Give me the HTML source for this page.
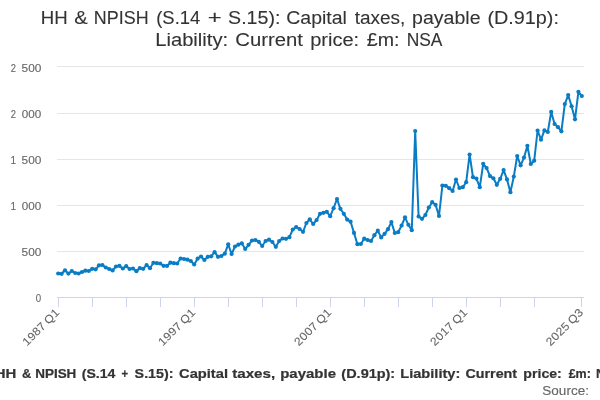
<!DOCTYPE html>
<html><head><meta charset="utf-8"><title>HH &amp; NPISH (S.14 + S.15): Capital taxes, payable (D.91p)</title>
<style>
html,body{margin:0;padding:0;background:#fff;}
body{width:600px;height:400px;overflow:hidden;font-family:"Liberation Sans", sans-serif;}
svg{display:block;font-family:"Liberation Sans", sans-serif;will-change:transform;}
text{white-space:pre;}
</style></head><body>
<svg width="600" height="400" viewBox="0 0 600 400">
<rect x="0" y="0" width="600" height="400" fill="#ffffff"/>
<path d="M 57 66.5 L 584 66.5" stroke="#e6e6e6" stroke-width="1" fill="none"/>
<path d="M 57 113.5 L 584 113.5" stroke="#e6e6e6" stroke-width="1" fill="none"/>
<path d="M 57 159.5 L 584 159.5" stroke="#e6e6e6" stroke-width="1" fill="none"/>
<path d="M 57 205.5 L 584 205.5" stroke="#e6e6e6" stroke-width="1" fill="none"/>
<path d="M 57 251.5 L 584 251.5" stroke="#e6e6e6" stroke-width="1" fill="none"/>
<path d="M 57 297.5 L 584 297.5" stroke="#ccd6eb" stroke-width="1" fill="none"/>
<path d="M 58.5 297 L 58.5 307" stroke="#ccd6eb" stroke-width="1" fill="none"/>
<path d="M 92.5 297 L 92.5 307" stroke="#ccd6eb" stroke-width="1" fill="none"/>
<path d="M 126.5 297 L 126.5 307" stroke="#ccd6eb" stroke-width="1" fill="none"/>
<path d="M 160.5 297 L 160.5 307" stroke="#ccd6eb" stroke-width="1" fill="none"/>
<path d="M 194.5 297 L 194.5 307" stroke="#ccd6eb" stroke-width="1" fill="none"/>
<path d="M 228.5 297 L 228.5 307" stroke="#ccd6eb" stroke-width="1" fill="none"/>
<path d="M 262.5 297 L 262.5 307" stroke="#ccd6eb" stroke-width="1" fill="none"/>
<path d="M 296.5 297 L 296.5 307" stroke="#ccd6eb" stroke-width="1" fill="none"/>
<path d="M 330.5 297 L 330.5 307" stroke="#ccd6eb" stroke-width="1" fill="none"/>
<path d="M 364.5 297 L 364.5 307" stroke="#ccd6eb" stroke-width="1" fill="none"/>
<path d="M 398.5 297 L 398.5 307" stroke="#ccd6eb" stroke-width="1" fill="none"/>
<path d="M 432.5 297 L 432.5 307" stroke="#ccd6eb" stroke-width="1" fill="none"/>
<path d="M 466.5 297 L 466.5 307" stroke="#ccd6eb" stroke-width="1" fill="none"/>
<path d="M 500.5 297 L 500.5 307" stroke="#ccd6eb" stroke-width="1" fill="none"/>
<path d="M 534.5 297 L 534.5 307" stroke="#ccd6eb" stroke-width="1" fill="none"/>
<path d="M 581.5 297 L 581.5 307" stroke="#ccd6eb" stroke-width="1" fill="none"/>
<path d="M 58.20 273.50 L 61.60 273.80 L 65.00 270.30 L 68.40 273.60 L 71.80 271.00 L 75.20 273.00 L 78.60 273.50 L 82.00 272.00 L 85.40 270.70 L 88.80 271.00 L 92.20 268.80 L 95.60 269.30 L 99.00 265.30 L 102.40 265.00 L 105.80 267.50 L 109.20 269.00 L 112.60 270.40 L 116.00 266.50 L 119.40 265.80 L 122.80 268.50 L 126.20 266.20 L 129.60 269.00 L 133.00 268.50 L 136.40 271.20 L 139.80 268.20 L 143.20 268.80 L 146.60 265.00 L 150.00 268.20 L 153.40 262.80 L 156.80 263.20 L 160.20 263.50 L 163.60 265.80 L 167.00 265.90 L 170.40 262.70 L 173.80 263.20 L 177.20 263.50 L 180.60 258.50 L 184.00 259.00 L 187.40 259.70 L 190.80 261.00 L 194.20 264.50 L 197.60 258.70 L 201.00 256.50 L 204.40 260.00 L 207.80 256.80 L 211.20 256.30 L 214.60 252.20 L 218.00 256.80 L 221.40 256.00 L 224.80 253.60 L 228.20 244.30 L 231.60 254.00 L 235.00 246.50 L 238.40 244.70 L 241.80 243.30 L 245.20 249.00 L 248.60 244.80 L 252.00 240.50 L 255.40 240.00 L 258.80 241.80 L 262.20 246.00 L 265.60 241.00 L 269.00 239.70 L 272.40 242.00 L 275.80 246.80 L 279.20 241.00 L 282.60 238.50 L 286.00 238.80 L 289.40 237.20 L 292.80 229.50 L 296.20 227.00 L 299.60 229.00 L 303.00 231.80 L 306.40 223.00 L 309.80 219.30 L 313.20 224.00 L 316.60 220.00 L 320.00 213.80 L 323.40 212.80 L 326.80 211.80 L 330.20 216.20 L 333.60 208.20 L 337.00 199.00 L 340.40 208.80 L 343.80 213.80 L 347.20 219.60 L 350.60 221.70 L 354.00 232.90 L 357.40 244.20 L 360.80 244.00 L 364.20 238.70 L 367.60 240.00 L 371.00 241.00 L 374.40 235.20 L 377.80 230.70 L 381.20 237.40 L 384.60 233.80 L 388.00 229.20 L 391.40 222.10 L 394.80 233.00 L 398.20 232.20 L 401.60 225.50 L 405.00 217.30 L 408.40 224.80 L 411.80 230.20 L 415.20 131.00 L 418.60 216.50 L 422.00 218.80 L 425.40 215.00 L 428.80 207.50 L 432.20 202.20 L 435.60 204.80 L 439.00 216.00 L 442.40 185.50 L 445.80 185.80 L 449.20 188.20 L 452.60 191.00 L 456.00 179.50 L 459.40 188.00 L 462.80 187.20 L 466.20 182.20 L 469.60 154.50 L 473.00 177.20 L 476.40 178.60 L 479.80 187.20 L 483.20 163.80 L 486.60 168.00 L 490.00 176.10 L 493.40 178.30 L 496.80 184.80 L 500.20 178.80 L 503.60 170.10 L 507.00 179.40 L 510.40 192.20 L 513.80 176.60 L 517.20 156.00 L 520.60 165.30 L 524.00 157.60 L 527.40 145.80 L 530.80 164.00 L 534.20 160.70 L 537.60 130.50 L 541.00 139.70 L 544.40 130.40 L 547.80 132.00 L 551.20 111.90 L 554.60 124.00 L 558.00 127.20 L 561.40 131.30 L 564.80 104.10 L 568.20 95.00 L 571.60 106.30 L 575.00 119.30 L 578.40 91.80 L 581.80 96.00" stroke="#0a7cc4" stroke-width="2" fill="none" stroke-linejoin="round" stroke-linecap="round"/>
<g fill="#0a7cc4"><circle cx="58.20" cy="273.50" r="2.1"/><circle cx="61.60" cy="273.80" r="2.1"/><circle cx="65.00" cy="270.30" r="2.1"/><circle cx="68.40" cy="273.60" r="2.1"/><circle cx="71.80" cy="271.00" r="2.1"/><circle cx="75.20" cy="273.00" r="2.1"/><circle cx="78.60" cy="273.50" r="2.1"/><circle cx="82.00" cy="272.00" r="2.1"/><circle cx="85.40" cy="270.70" r="2.1"/><circle cx="88.80" cy="271.00" r="2.1"/><circle cx="92.20" cy="268.80" r="2.1"/><circle cx="95.60" cy="269.30" r="2.1"/><circle cx="99.00" cy="265.30" r="2.1"/><circle cx="102.40" cy="265.00" r="2.1"/><circle cx="105.80" cy="267.50" r="2.1"/><circle cx="109.20" cy="269.00" r="2.1"/><circle cx="112.60" cy="270.40" r="2.1"/><circle cx="116.00" cy="266.50" r="2.1"/><circle cx="119.40" cy="265.80" r="2.1"/><circle cx="122.80" cy="268.50" r="2.1"/><circle cx="126.20" cy="266.20" r="2.1"/><circle cx="129.60" cy="269.00" r="2.1"/><circle cx="133.00" cy="268.50" r="2.1"/><circle cx="136.40" cy="271.20" r="2.1"/><circle cx="139.80" cy="268.20" r="2.1"/><circle cx="143.20" cy="268.80" r="2.1"/><circle cx="146.60" cy="265.00" r="2.1"/><circle cx="150.00" cy="268.20" r="2.1"/><circle cx="153.40" cy="262.80" r="2.1"/><circle cx="156.80" cy="263.20" r="2.1"/><circle cx="160.20" cy="263.50" r="2.1"/><circle cx="163.60" cy="265.80" r="2.1"/><circle cx="167.00" cy="265.90" r="2.1"/><circle cx="170.40" cy="262.70" r="2.1"/><circle cx="173.80" cy="263.20" r="2.1"/><circle cx="177.20" cy="263.50" r="2.1"/><circle cx="180.60" cy="258.50" r="2.1"/><circle cx="184.00" cy="259.00" r="2.1"/><circle cx="187.40" cy="259.70" r="2.1"/><circle cx="190.80" cy="261.00" r="2.1"/><circle cx="194.20" cy="264.50" r="2.1"/><circle cx="197.60" cy="258.70" r="2.1"/><circle cx="201.00" cy="256.50" r="2.1"/><circle cx="204.40" cy="260.00" r="2.1"/><circle cx="207.80" cy="256.80" r="2.1"/><circle cx="211.20" cy="256.30" r="2.1"/><circle cx="214.60" cy="252.20" r="2.1"/><circle cx="218.00" cy="256.80" r="2.1"/><circle cx="221.40" cy="256.00" r="2.1"/><circle cx="224.80" cy="253.60" r="2.1"/><circle cx="228.20" cy="244.30" r="2.1"/><circle cx="231.60" cy="254.00" r="2.1"/><circle cx="235.00" cy="246.50" r="2.1"/><circle cx="238.40" cy="244.70" r="2.1"/><circle cx="241.80" cy="243.30" r="2.1"/><circle cx="245.20" cy="249.00" r="2.1"/><circle cx="248.60" cy="244.80" r="2.1"/><circle cx="252.00" cy="240.50" r="2.1"/><circle cx="255.40" cy="240.00" r="2.1"/><circle cx="258.80" cy="241.80" r="2.1"/><circle cx="262.20" cy="246.00" r="2.1"/><circle cx="265.60" cy="241.00" r="2.1"/><circle cx="269.00" cy="239.70" r="2.1"/><circle cx="272.40" cy="242.00" r="2.1"/><circle cx="275.80" cy="246.80" r="2.1"/><circle cx="279.20" cy="241.00" r="2.1"/><circle cx="282.60" cy="238.50" r="2.1"/><circle cx="286.00" cy="238.80" r="2.1"/><circle cx="289.40" cy="237.20" r="2.1"/><circle cx="292.80" cy="229.50" r="2.1"/><circle cx="296.20" cy="227.00" r="2.1"/><circle cx="299.60" cy="229.00" r="2.1"/><circle cx="303.00" cy="231.80" r="2.1"/><circle cx="306.40" cy="223.00" r="2.1"/><circle cx="309.80" cy="219.30" r="2.1"/><circle cx="313.20" cy="224.00" r="2.1"/><circle cx="316.60" cy="220.00" r="2.1"/><circle cx="320.00" cy="213.80" r="2.1"/><circle cx="323.40" cy="212.80" r="2.1"/><circle cx="326.80" cy="211.80" r="2.1"/><circle cx="330.20" cy="216.20" r="2.1"/><circle cx="333.60" cy="208.20" r="2.1"/><circle cx="337.00" cy="199.00" r="2.1"/><circle cx="340.40" cy="208.80" r="2.1"/><circle cx="343.80" cy="213.80" r="2.1"/><circle cx="347.20" cy="219.60" r="2.1"/><circle cx="350.60" cy="221.70" r="2.1"/><circle cx="354.00" cy="232.90" r="2.1"/><circle cx="357.40" cy="244.20" r="2.1"/><circle cx="360.80" cy="244.00" r="2.1"/><circle cx="364.20" cy="238.70" r="2.1"/><circle cx="367.60" cy="240.00" r="2.1"/><circle cx="371.00" cy="241.00" r="2.1"/><circle cx="374.40" cy="235.20" r="2.1"/><circle cx="377.80" cy="230.70" r="2.1"/><circle cx="381.20" cy="237.40" r="2.1"/><circle cx="384.60" cy="233.80" r="2.1"/><circle cx="388.00" cy="229.20" r="2.1"/><circle cx="391.40" cy="222.10" r="2.1"/><circle cx="394.80" cy="233.00" r="2.1"/><circle cx="398.20" cy="232.20" r="2.1"/><circle cx="401.60" cy="225.50" r="2.1"/><circle cx="405.00" cy="217.30" r="2.1"/><circle cx="408.40" cy="224.80" r="2.1"/><circle cx="411.80" cy="230.20" r="2.1"/><circle cx="415.20" cy="131.00" r="2.1"/><circle cx="418.60" cy="216.50" r="2.1"/><circle cx="422.00" cy="218.80" r="2.1"/><circle cx="425.40" cy="215.00" r="2.1"/><circle cx="428.80" cy="207.50" r="2.1"/><circle cx="432.20" cy="202.20" r="2.1"/><circle cx="435.60" cy="204.80" r="2.1"/><circle cx="439.00" cy="216.00" r="2.1"/><circle cx="442.40" cy="185.50" r="2.1"/><circle cx="445.80" cy="185.80" r="2.1"/><circle cx="449.20" cy="188.20" r="2.1"/><circle cx="452.60" cy="191.00" r="2.1"/><circle cx="456.00" cy="179.50" r="2.1"/><circle cx="459.40" cy="188.00" r="2.1"/><circle cx="462.80" cy="187.20" r="2.1"/><circle cx="466.20" cy="182.20" r="2.1"/><circle cx="469.60" cy="154.50" r="2.1"/><circle cx="473.00" cy="177.20" r="2.1"/><circle cx="476.40" cy="178.60" r="2.1"/><circle cx="479.80" cy="187.20" r="2.1"/><circle cx="483.20" cy="163.80" r="2.1"/><circle cx="486.60" cy="168.00" r="2.1"/><circle cx="490.00" cy="176.10" r="2.1"/><circle cx="493.40" cy="178.30" r="2.1"/><circle cx="496.80" cy="184.80" r="2.1"/><circle cx="500.20" cy="178.80" r="2.1"/><circle cx="503.60" cy="170.10" r="2.1"/><circle cx="507.00" cy="179.40" r="2.1"/><circle cx="510.40" cy="192.20" r="2.1"/><circle cx="513.80" cy="176.60" r="2.1"/><circle cx="517.20" cy="156.00" r="2.1"/><circle cx="520.60" cy="165.30" r="2.1"/><circle cx="524.00" cy="157.60" r="2.1"/><circle cx="527.40" cy="145.80" r="2.1"/><circle cx="530.80" cy="164.00" r="2.1"/><circle cx="534.20" cy="160.70" r="2.1"/><circle cx="537.60" cy="130.50" r="2.1"/><circle cx="541.00" cy="139.70" r="2.1"/><circle cx="544.40" cy="130.40" r="2.1"/><circle cx="547.80" cy="132.00" r="2.1"/><circle cx="551.20" cy="111.90" r="2.1"/><circle cx="554.60" cy="124.00" r="2.1"/><circle cx="558.00" cy="127.20" r="2.1"/><circle cx="561.40" cy="131.30" r="2.1"/><circle cx="564.80" cy="104.10" r="2.1"/><circle cx="568.20" cy="95.00" r="2.1"/><circle cx="571.60" cy="106.30" r="2.1"/><circle cx="575.00" cy="119.30" r="2.1"/><circle cx="578.40" cy="91.80" r="2.1"/><circle cx="581.80" cy="96.00" r="2.1"/></g>
<text x="40.74" y="24.0" font-size="18.7px" font-weight="normal" fill="#333333" stroke="#333333" stroke-width="0.1" textLength="26.91" lengthAdjust="spacingAndGlyphs">HH</text>
<text x="74.18" y="24.0" font-size="18.7px" font-weight="normal" fill="#333333" stroke="#333333" stroke-width="0.1" textLength="13.45" lengthAdjust="spacingAndGlyphs">&amp;</text>
<text x="93.86" y="24.0" font-size="18.7px" font-weight="normal" fill="#333333" stroke="#333333" stroke-width="0.1" textLength="54.75" lengthAdjust="spacingAndGlyphs">NPISH</text>
<text x="156.24" y="24.0" font-size="18.7px" font-weight="normal" fill="#333333" stroke="#333333" stroke-width="0.1" textLength="43.99" lengthAdjust="spacingAndGlyphs">(S.14</text>
<text x="207.89" y="24.0" font-size="18.7px" font-weight="normal" fill="#333333" stroke="#333333" stroke-width="0.1" textLength="13.99" lengthAdjust="spacingAndGlyphs">+</text>
<text x="228.08" y="24.0" font-size="18.7px" font-weight="normal" fill="#333333" stroke="#333333" stroke-width="0.1" textLength="52.29" lengthAdjust="spacingAndGlyphs">S.15):</text>
<text x="286.32" y="24.0" font-size="18.7px" font-weight="normal" fill="#333333" stroke="#333333" stroke-width="0.1" textLength="60.60" lengthAdjust="spacingAndGlyphs">Capital</text>
<text x="354.69" y="24.0" font-size="18.7px" font-weight="normal" fill="#333333" stroke="#333333" stroke-width="0.1" textLength="50.63" lengthAdjust="spacingAndGlyphs">taxes,</text>
<text x="412.12" y="24.0" font-size="18.7px" font-weight="normal" fill="#333333" stroke="#333333" stroke-width="0.1" textLength="68.40" lengthAdjust="spacingAndGlyphs">payable</text>
<text x="487.41" y="24.0" font-size="18.7px" font-weight="normal" fill="#333333" stroke="#333333" stroke-width="0.1" textLength="71.53" lengthAdjust="spacingAndGlyphs">(D.91p):</text>
<text x="155.22" y="45.6" font-size="18.7px" font-weight="normal" fill="#333333" stroke="#333333" stroke-width="0.1" textLength="72.90" lengthAdjust="spacingAndGlyphs">Liability:</text>
<text x="235.26" y="45.6" font-size="18.7px" font-weight="normal" fill="#333333" stroke="#333333" stroke-width="0.1" textLength="67.64" lengthAdjust="spacingAndGlyphs">Current</text>
<text x="310.16" y="45.6" font-size="18.7px" font-weight="normal" fill="#333333" stroke="#333333" stroke-width="0.1" textLength="48.91" lengthAdjust="spacingAndGlyphs">price:</text>
<text x="366.80" y="45.6" font-size="18.7px" font-weight="normal" fill="#333333" stroke="#333333" stroke-width="0.1" textLength="32.67" lengthAdjust="spacingAndGlyphs">£m:</text>
<text x="406.65" y="45.6" font-size="18.7px" font-weight="normal" fill="#333333" stroke="#333333" stroke-width="0.1" textLength="35.81" lengthAdjust="spacingAndGlyphs">NSA</text>
<text x="-5.18" y="378" font-size="12.4px" font-weight="bold" fill="#333333" stroke="#333333" stroke-width="0.2" textLength="21.59" lengthAdjust="spacingAndGlyphs">HH</text>
<text x="22.11" y="378" font-size="12.4px" font-weight="bold" fill="#333333" stroke="#333333" stroke-width="0.2" textLength="9.27" lengthAdjust="spacingAndGlyphs">&amp;</text>
<text x="35.19" y="378" font-size="12.4px" font-weight="bold" fill="#333333" stroke="#333333" stroke-width="0.2" textLength="41.17" lengthAdjust="spacingAndGlyphs">NPISH</text>
<text x="81.72" y="378" font-size="12.4px" font-weight="bold" fill="#333333" stroke="#333333" stroke-width="0.2" textLength="33.61" lengthAdjust="spacingAndGlyphs">(S.14</text>
<text x="121.52" y="378" font-size="12.4px" font-weight="bold" fill="#333333" stroke="#333333" stroke-width="0.2" textLength="6.59" lengthAdjust="spacingAndGlyphs">+</text>
<text x="134.64" y="378" font-size="12.4px" font-weight="bold" fill="#333333" stroke="#333333" stroke-width="0.2" textLength="38.82" lengthAdjust="spacingAndGlyphs">S.15):</text>
<text x="179.04" y="378" font-size="12.4px" font-weight="bold" fill="#333333" stroke="#333333" stroke-width="0.2" textLength="48.96" lengthAdjust="spacingAndGlyphs">Capital</text>
<text x="232.16" y="378" font-size="12.4px" font-weight="bold" fill="#333333" stroke="#333333" stroke-width="0.2" textLength="43.03" lengthAdjust="spacingAndGlyphs">taxes,</text>
<text x="280.22" y="378" font-size="12.4px" font-weight="bold" fill="#333333" stroke="#333333" stroke-width="0.2" textLength="55.76" lengthAdjust="spacingAndGlyphs">payable</text>
<text x="341.35" y="378" font-size="12.4px" font-weight="bold" fill="#333333" stroke="#333333" stroke-width="0.2" textLength="53.85" lengthAdjust="spacingAndGlyphs">(D.91p):</text>
<text x="400.22" y="378" font-size="12.4px" font-weight="bold" fill="#333333" stroke="#333333" stroke-width="0.2" textLength="60.11" lengthAdjust="spacingAndGlyphs">Liability:</text>
<text x="465.48" y="378" font-size="12.4px" font-weight="bold" fill="#333333" stroke="#333333" stroke-width="0.2" textLength="51.64" lengthAdjust="spacingAndGlyphs">Current</text>
<text x="523.38" y="378" font-size="12.4px" font-weight="bold" fill="#333333" stroke="#333333" stroke-width="0.2" textLength="38.39" lengthAdjust="spacingAndGlyphs">price:</text>
<text x="568.66" y="378" font-size="12.4px" font-weight="bold" fill="#333333" stroke="#333333" stroke-width="0.2" textLength="22.22" lengthAdjust="spacingAndGlyphs">£m:</text>
<text x="596.11" y="378" font-size="12.4px" font-weight="bold" fill="#333333" stroke="#333333" stroke-width="0.2" textLength="27.38" lengthAdjust="spacingAndGlyphs">NSA</text>
<text x="542.31" y="395" font-size="12.4px" font-weight="normal" fill="#666666" stroke="#666666" stroke-width="0.12" textLength="46.70" lengthAdjust="spacingAndGlyphs">Source:</text>
<text x="10.78" y="72" font-size="11.3px" font-weight="normal" fill="#666666" stroke="#666666" stroke-width="0.12" textLength="5.22" lengthAdjust="spacingAndGlyphs">2</text>
<text x="21.58" y="72" font-size="11.3px" font-weight="normal" fill="#666666" stroke="#666666" stroke-width="0.12" textLength="19.77" lengthAdjust="spacingAndGlyphs">500</text>
<text x="10.78" y="118" font-size="11.3px" font-weight="normal" fill="#666666" stroke="#666666" stroke-width="0.12" textLength="5.22" lengthAdjust="spacingAndGlyphs">2</text>
<text x="21.89" y="118" font-size="11.3px" font-weight="normal" fill="#666666" stroke="#666666" stroke-width="0.12" textLength="19.45" lengthAdjust="spacingAndGlyphs">000</text>
<text x="10.52" y="164" font-size="11.3px" font-weight="normal" fill="#666666" stroke="#666666" stroke-width="0.12" textLength="5.59" lengthAdjust="spacingAndGlyphs">1</text>
<text x="21.58" y="164" font-size="11.3px" font-weight="normal" fill="#666666" stroke="#666666" stroke-width="0.12" textLength="19.77" lengthAdjust="spacingAndGlyphs">500</text>
<text x="10.52" y="210" font-size="11.3px" font-weight="normal" fill="#666666" stroke="#666666" stroke-width="0.12" textLength="5.59" lengthAdjust="spacingAndGlyphs">1</text>
<text x="21.89" y="210" font-size="11.3px" font-weight="normal" fill="#666666" stroke="#666666" stroke-width="0.12" textLength="19.45" lengthAdjust="spacingAndGlyphs">000</text>
<text x="21.58" y="256" font-size="11.3px" font-weight="normal" fill="#666666" stroke="#666666" stroke-width="0.12" textLength="19.77" lengthAdjust="spacingAndGlyphs">500</text>
<text x="35.82" y="302" font-size="11.3px" font-weight="normal" fill="#666666" stroke="#666666" stroke-width="0.12" textLength="5.38" lengthAdjust="spacingAndGlyphs">0</text>
<g transform="rotate(-45 60.2 313.25) translate(60.2 313.25) scale(1.08 1)" font-size="11.3px" fill="#666666" stroke="#666666" stroke-width="0.1"><text x="-43.57 -37.09 -30.60 -24.12 -17.74 -15.26 -6.38" y="0">1987 Q1</text></g>
<g transform="rotate(-45 196.1 313.25) translate(196.1 313.25) scale(1.08 1)" font-size="11.3px" fill="#666666" stroke="#666666" stroke-width="0.1"><text x="-43.57 -37.09 -30.60 -24.12 -17.74 -15.26 -6.38" y="0">1997 Q1</text></g>
<g transform="rotate(-45 332.1 313.25) translate(332.1 313.25) scale(1.08 1)" font-size="11.3px" fill="#666666" stroke="#666666" stroke-width="0.1"><text x="-43.57 -37.09 -30.60 -24.12 -17.74 -15.26 -6.38" y="0">2007 Q1</text></g>
<g transform="rotate(-45 468.1 313.25) translate(468.1 313.25) scale(1.08 1)" font-size="11.3px" fill="#666666" stroke="#666666" stroke-width="0.1"><text x="-43.57 -37.09 -30.60 -24.12 -17.74 -15.26 -6.38" y="0">2017 Q1</text></g>
<g transform="rotate(-45 583.8 313.25) translate(583.8 313.25) scale(1.08 1)" font-size="11.3px" fill="#666666" stroke="#666666" stroke-width="0.1"><text x="-43.57 -37.09 -30.60 -24.12 -17.74 -15.26 -6.38" y="0">2025 Q3</text></g>
</svg></body></html>
